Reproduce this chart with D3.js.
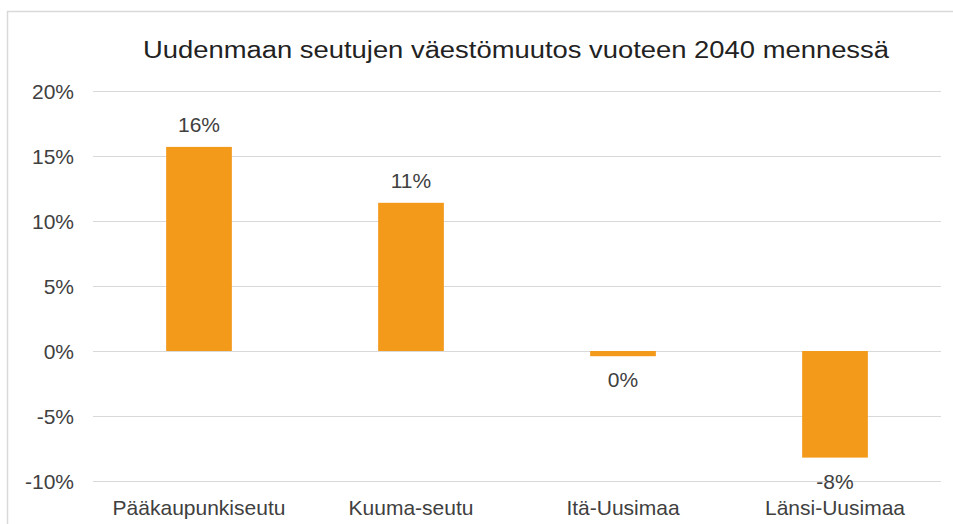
<!DOCTYPE html>
<html><head><meta charset="utf-8">
<script src="https://cdn.jsdelivr.net/npm/d3@7"></script>
<style>body{margin:0;background:#fff;}svg{display:block;}</style>
</head><body>
<svg id="c" width="953" height="524"></svg>
<script>
const categories = ["Pääkaupunkiseutu","Kuuma-seutu","Itä-Uusimaa","Länsi-Uusimaa"];
const values = [15.7, 11.4, -0.4, -8.2];
const valueLabels = ["16%","11%","0%","-8%"];
const yTicks = [-10,-5,0,5,10,15,20];
const title = "Uudenmaan seutujen väestömuutos vuoteen 2040 mennessä";

(function(){
const svg = d3.select("#c");
const W = 953, H = 524;
const pLeft = 93, pRight = 941, pTop = 91, pBottom = 481;
const textColor = "#404040";
const font = "'Liberation Sans', Arial, sans-serif";
const fs = 21;

svg.append("rect").attr("x",7.5).attr("y",11.5).attr("width",W).attr("height",H)
  .attr("fill","#fff").attr("stroke","#d9d9d9").attr("stroke-width",1.5);

const x = d3.scaleBand().domain(categories).range([pLeft,pRight]).paddingInner(0.69).paddingOuter(0.345);
const y = d3.scaleLinear().domain([-10,20]).range([pBottom,pTop]);

svg.append("g").selectAll("line").data(yTicks).join("line")
  .attr("x1",pLeft).attr("x2",pRight)
  .attr("y1",d=>Math.round(y(d))+0.5).attr("y2",d=>Math.round(y(d))+0.5)
  .attr("stroke","#d9d9d9").attr("stroke-width",1.2);

const yAxis = d3.axisLeft(y).tickValues(yTicks).tickFormat(d=>d+"%").tickSize(0).tickPadding(0);
const ga = svg.append("g").attr("transform",`translate(74,0)`).call(yAxis);
ga.select(".domain").remove();
ga.selectAll("text").attr("font-family",font).attr("font-size",fs).attr("fill",textColor).attr("dy","0.36em");

svg.append("g").selectAll("rect").data(values).join("rect")
  .attr("x",(d,i)=>x(categories[i]))
  .attr("width",x.bandwidth())
  .attr("y",d=>y(Math.max(0,d)))
  .attr("height",d=>Math.abs(y(d)-y(0)))
  .attr("fill","#F39A1B");

svg.append("g").selectAll("text").data(values).join("text")
  .attr("x",(d,i)=>x(categories[i])+x.bandwidth()/2)
  .attr("y",d=> d>=0 ? y(d)-15 : y(d)+31)
  .attr("text-anchor","middle")
  .attr("font-family",font).attr("font-size",fs).attr("fill",textColor)
  .text((d,i)=>valueLabels[i]);

const xAxis = d3.axisBottom(x).tickSize(0).tickPadding(0);
const gx = svg.append("g").attr("transform",`translate(0,${pBottom})`).call(xAxis);
gx.select(".domain").remove();
gx.selectAll("text").attr("font-family",font).attr("font-size",fs).attr("fill",textColor)
  .attr("dy",null).attr("y",34);

svg.append("text").attr("x",516).attr("y",58).attr("text-anchor","middle")
  .attr("font-family",font).attr("font-size",23.5).attr("fill","#222")
  .attr("textLength",746).attr("lengthAdjust","spacingAndGlyphs")
  .text(title);
})();
</script>
</body></html>
